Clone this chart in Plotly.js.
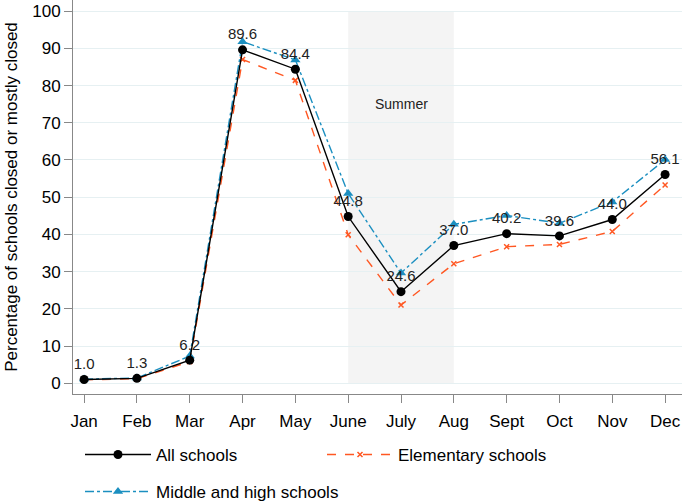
<!DOCTYPE html>
<html><head><meta charset="utf-8">
<script src="https://cdn.plot.ly/plotly-3.0.1.min.js"></script>
<style>body{margin:0;background:#fff}#chart{width:682px;height:503px}</style>
</head><body><div id="chart"></div>
<script>
const months = ["Jan","Feb","Mar","Apr","May","June","July","Aug","Sept","Oct","Nov","Dec"];
const allSchools = [1.0, 1.3, 6.2, 89.6, 84.4, 44.8, 24.6, 37.0, 40.2, 39.6, 44.0, 56.1];
const elementary = [0.9, 1.2, 5.8, 87.0, 81.4, 39.9, 21.0, 32.1, 36.7, 37.3, 40.8, 53.3];
const middleHigh = [1.1, 1.4, 7.3, 91.8, 86.9, 51.0, 29.6, 42.7, 45.1, 43.0, 48.7, 60.1];
const allLabels = allSchools.map(v => v.toFixed(1));
const summerLabel = "Summer";
const yTitle = "Percentage of schools closed or mostly closed";
const xIdx = months.map((m, i) => i);

const font = "Liberation Sans, Arial, sans-serif";
const tAll = {x: xIdx, y: allSchools, name: "All schools", mode: "lines+markers+text", legend: "legend",
   text: allLabels, textposition: "top center", textfont: {size: 15, color: "#222", family: font},
   line: {color: "#000", width: 1.4}, marker: {symbol: "circle", size: 9, color: "#000"}, cliponaxis: false, legendrank: 1};
const tEl = {x: xIdx, y: elementary, name: "Elementary schools", mode: "lines+markers", legend: "legend",
   line: {color: "#ff5722", width: 1.4, dash: "dash"}, marker: {symbol: "x-thin", size: 5, color: "#ff5722", line: {color: "#ff5722", width: 1.5}}, legendrank: 2};
const tMH = {x: xIdx, y: middleHigh, name: "Middle and high schools", mode: "lines+markers", legend: "legend2",
   line: {color: "#1b8fc0", width: 1.4, dash: "dashdot"}, marker: {symbol: "triangle-up", size: 9, color: "#1b8fc0"}};
const data = [tEl, tMH, tAll];

const legBase = {orientation: "h", xref: "container", yref: "container", xanchor: "left", yanchor: "middle",
                 itemwidth: 66, font: {size: 17}, bgcolor: "rgba(0,0,0,0)", borderwidth: 0};
const layout = {
  width: 682, height: 503,
  margin: {l: 73, r: 0, t: 0, b: 109},
  paper_bgcolor: "#fff", plot_bgcolor: "#fff",
  font: {family: font, size: 17, color: "#000"},
  showlegend: true,
  xaxis: {range: [-0.21, 11.32], tickvals: xIdx, ticktext: months, showgrid: false, zeroline: false,
          showline: true, linecolor: "#888", linewidth: 1, ticks: "outside", ticklen: 8, tickcolor: "#888",
          tickfont: {size: 17}, ticklabelstandoff: 4},
  yaxis: {range: [-2.9, 103], tickvals: [0,10,20,30,40,50,60,70,80,90,100], showgrid: true, gridcolor: "#e6f0f2",
          gridwidth: 1, zeroline: false, showline: true, linecolor: "#888", linewidth: 1, ticks: "outside",
          ticklen: 8, tickcolor: "#888", tickfont: {size: 17}, automargin: false,
          title: {text: yTitle, font: {size: 17}, standoff: 10}},
  shapes: [{type: "rect", xref: "x", yref: "y", x0: 5, x1: 7, y0: 0, y1: 100, fillcolor: "#f4f4f4",
            line: {width: 0}, layer: "below"}],
  annotations: [{x: 6, y: 75, xref: "x", yref: "y", text: summerLabel, showarrow: false, font: {size: 14, color: "#222"}}],
  legend: Object.assign({}, legBase, {x: 80/682, y: (503-455)/503, entrywidth: 161, entrywidthmode: "pixels"}),
  legend2: Object.assign({}, legBase, {x: 80/682, y: (503-492)/503})
};
Plotly.newPlot("chart", data, layout, {displayModeBar: false, staticPlot: true});
</script></body></html>
